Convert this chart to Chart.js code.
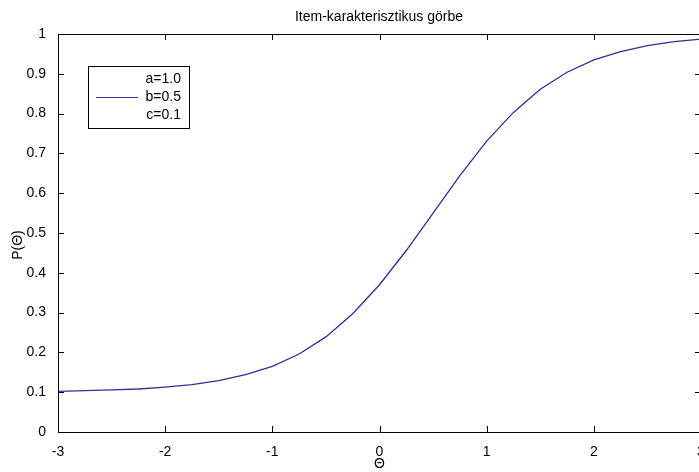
<!DOCTYPE html>
<html>
<head>
<meta charset="utf-8">
<script src="https://cdn.jsdelivr.net/npm/chart.js@4"></script>
<style>
  html, body { margin: 0; padding: 0; background: #fff; overflow: hidden; }
  #wrap { width: 699px; height: 472px; overflow: hidden; }
</style>
</head>
<body>
<div id="wrap"><canvas id="chart" width="702" height="472"></canvas></div>
<script>
// theta values and P(theta)
const thetas = [-3, -2.75, -2.5, -2.25, -2, -1.75, -1.5, -1.25, -1, -0.75, -0.5, -0.25,
                0, 0.25, 0.5, 0.75, 1, 1.25, 1.5, 1.75, 2, 2.25, 2.5, 2.75, 3];
const probs = [0.102, 0.104, 0.106, 0.108, 0.113, 0.119, 0.129, 0.144, 0.165, 0.196, 0.239, 0.297,
               0.370, 0.456, 0.550, 0.644, 0.731, 0.803, 0.861, 0.904, 0.935, 0.956, 0.971, 0.981, 0.987];
const xTicks = [-3, -2, -1, 0, 1, 2, 3];
const legendLines = ["a=1.0", "b=0.5", "c=0.1"];
const titleText = "Item-karakterisztikus görbe";

const FONT = "'Liberation Sans', Arial, sans-serif";
const lineColor = "#2f2f96";

const points = thetas.map((t, i) => ({ x: t, y: probs[i] }));

// frame, inward ticks, title, axis labels, legend box
const matlabLook = {
    id: "matlabLook",
    afterDraw(c) {
        const ctx = c.ctx;
        const a = c.chartArea;
        const xs = c.scales.x, ys = c.scales.y;
        ctx.save();
        ctx.strokeStyle = "#000";
        ctx.lineWidth = 1;
        ctx.beginPath();
        ctx.rect(a.left + 0.5, a.top + 0.5, a.right - a.left - 1, a.bottom - a.top);
        ctx.stroke();

        ctx.beginPath();
        xTicks.forEach(v => {
            const px = Math.round(xs.getPixelForValue(v)) + 0.5;
            ctx.moveTo(px, a.bottom); ctx.lineTo(px, a.bottom - 6);
            ctx.moveTo(px, a.top); ctx.lineTo(px, a.top + 6);
        });
        ys.ticks.forEach(t => {
            const py = Math.round(ys.getPixelForValue(t.value)) + 0.5;
            ctx.moveTo(a.left, py); ctx.lineTo(a.left + 6, py);
            ctx.moveTo(a.right, py); ctx.lineTo(a.right - 6, py);
        });
        ctx.stroke();

        ctx.fillStyle = "#000";
        ctx.font = "14px " + FONT;
        ctx.textAlign = "center";
        ctx.textBaseline = "middle";
        ctx.fillText(titleText, 379, 17);

        ctx.fillText("\u0398", xs.getPixelForValue(0), 464);
        ctx.save();
        ctx.translate(18, 245);
        ctx.rotate(-Math.PI / 2);
        ctx.fillText("P(\u0398)", 0, 0);
        ctx.restore();

        // legend
        const lx = 88, ly = 66, lw = 101, lh = 62;
        ctx.fillStyle = "#fff";
        ctx.fillRect(lx, ly, lw, lh);
        ctx.strokeStyle = "#000";
        ctx.strokeRect(lx + 0.5, ly + 0.5, lw, lh);
        ctx.fillStyle = "#000";
        ctx.textAlign = "right";
        legendLines.forEach((s, i) => ctx.fillText(s, lx + lw - 8, ly + 13 + i * 18));
        ctx.strokeStyle = lineColor;
        ctx.beginPath();
        ctx.moveTo(lx + 8, ly + 31.5);
        ctx.lineTo(lx + 50, ly + 31.5);
        ctx.stroke();
        ctx.restore();
    }
};

new Chart(document.getElementById("chart"), {
    type: "line",
    data: {
        datasets: [{
            label: "ICC",
            data: points,
            borderColor: lineColor,
            borderWidth: 1.3,
            pointRadius: 0,
            tension: 0,
            fill: false
        }]
    },
    options: {
        responsive: false,
        animation: false,
        layout: { padding: { top: 34, right: 1, left: 0, bottom: 0 } },
        plugins: { legend: { display: false }, title: { display: false }, tooltip: { enabled: false } },
        scales: {
            x: {
                type: "linear",
                min: -3, max: 3,
                afterBuildTicks: s => { s.ticks = xTicks.map(v => ({ value: v })); },
                afterFit: s => { s.height = 40; s.paddingLeft = 0; s.paddingRight = 0; },
                grid: { display: false },
                border: { display: false },
                ticks: { color: "#000", font: { family: FONT, size: 14 }, padding: 4, maxRotation: 0 }
            },
            y: {
                min: 0, max: 1,
                afterFit: s => { s.width = 58; s.paddingTop = 0; s.paddingBottom = 0; },
                grid: { display: false },
                border: { display: false },
                ticks: {
                    stepSize: 0.1,
                    color: "#000",
                    font: { family: FONT, size: 14 },
                    padding: 4,
                    callback: v => String(+v.toFixed(1))
                }
            }
        }
    },
    plugins: [matlabLook]
});
</script>
</body>
</html>
